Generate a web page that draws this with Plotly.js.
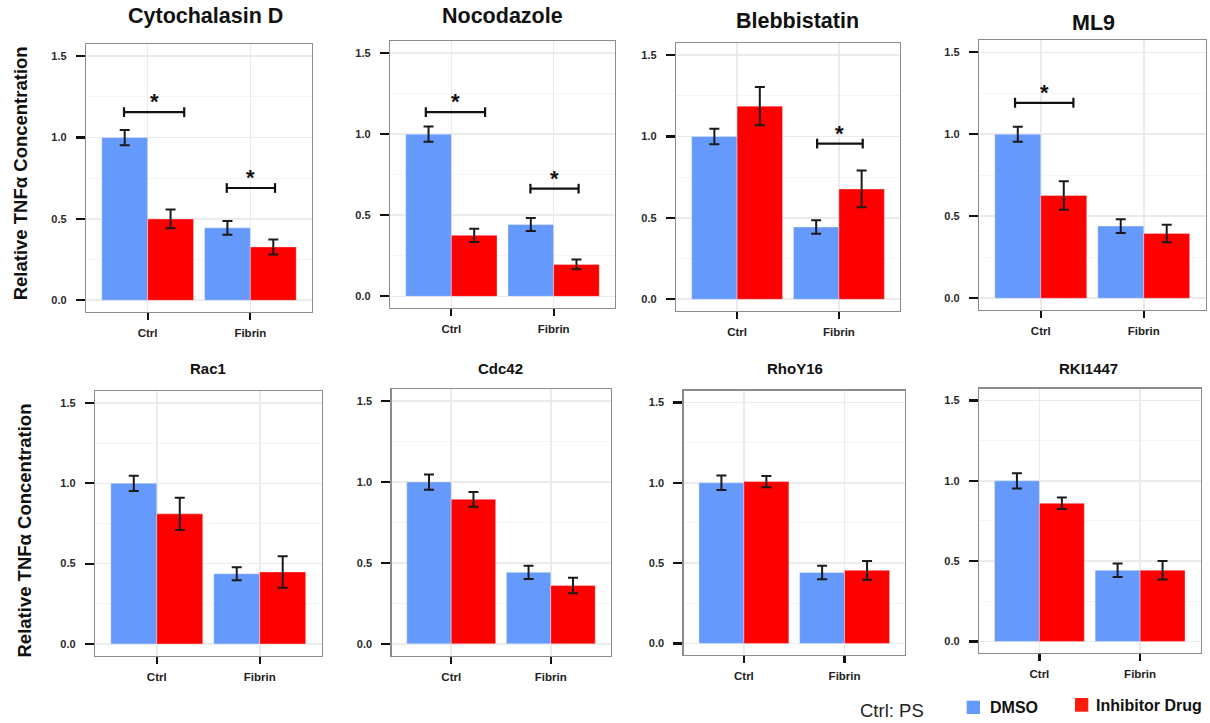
<!DOCTYPE html>
<html><head><meta charset="utf-8">
<script src="https://cdn.plot.ly/plotly-3.0.1.min.js"></script>
<style>html,body{margin:0;padding:0;background:#fff}#chart{width:1210px;height:723px}</style>
</head><body><div id="chart"></div>
<script>
// ---- data ----
const categories = ['Ctrl', 'Fibrin'];
const panelTitles = ['Cytochalasin D', 'Nocodazole', 'Blebbistatin', 'ML9', 'Rac1', 'Cdc42', 'RhoY16', 'RKI1447'];
const seriesNames = ['DMSO', 'Inhibitor Drug'];
const dmsoValues = [[1.00, 0.445], [1.00, 0.443], [1.00, 0.444], [1.00, 0.440], [1.00, 0.437], [1.00, 0.442], [1.00, 0.442], [1.00, 0.443]];
const dmsoErrors = [[0.047, 0.043], [0.047, 0.040], [0.048, 0.041], [0.046, 0.042], [0.047, 0.040], [0.047, 0.041], [0.045, 0.042], [0.047, 0.042]];
const drugValues = [[0.500, 0.328], [0.376, 0.197], [1.187, 0.678], [0.626, 0.395], [0.810, 0.448], [0.893, 0.360], [1.008, 0.455], [0.860, 0.443]];
const drugErrors = [[0.058, 0.046], [0.041, 0.030], [0.117, 0.113], [0.087, 0.053], [0.100, 0.098], [0.045, 0.048], [0.035, 0.058], [0.036, 0.058]];
// significance brackets
const sigPanel = [0, 0, 1, 1, 2, 3];
const sigX0 = [-0.23, 0.77, -0.25, 0.773, 0.786, -0.25];
const sigX1 = [0.356, 1.24, 0.33, 1.244, 1.234, 0.317];
const sigY = [1.156, 0.69, 1.136, 0.664, 0.957, 1.192];
const sigLabel = '*';
const yTickVals = [0, 0.5, 1.0, 1.5];
const yTickText = ['0.0', '0.5', '1.0', '1.5'];
const yTitle = 'Relative TNFα Concentration';
const footNote = 'Ctrl: PS';

// ---- layout geometry (px) ----
const W = 1210, H = 723;
const boxes = [
  [86, 44, 312, 312], [390, 41, 615, 308], [676, 43, 900, 311], [979, 40, 1205.5, 310],
  [95, 391, 321.5, 655.5], [391.5, 389, 610.5, 655.5], [683.5, 390.5, 905, 655], [979, 388.5, 1200.5, 653]
];
const titlePos = [[205.5, 16], [502.5, 16], [797.5, 21], [1093.3, 22.5], [208.3, 368], [500, 368], [794.5, 368], [1088.3, 368]];
const titleSize = [21.5, 21.5, 21.5, 21.5, 15, 15, 15, 15];
const FONT = 'Liberation Sans, Arial, Helvetica, sans-serif';
const BLUE = '#6699fc', RED = '#ff0000';
const catIdx = categories.map((c, i) => i);

const traces = [];
const layout = {
  width: W, height: H, margin: {l: 0, r: 0, t: 0, b: 0},
  paper_bgcolor: '#ffffff', plot_bgcolor: '#ffffff', showlegend: false,
  barmode: 'group', bargap: 0.107, bargroupgap: 0,
  font: {family: FONT, color: '#222'},
  annotations: [], shapes: []
};

boxes.forEach((b, i) => {
  const s = i === 0 ? '' : String(i + 1);
  layout['xaxis' + s] = {
    domain: [b[0] / W, b[2] / W], anchor: 'y' + s, range: [-0.6, 1.6], type: 'linear',
    tickvals: catIdx, ticktext: categories, ticks: 'outside', ticklen: 7, tickwidth: 2.2, tickcolor: '#111',
    ticklabelstandoff: 3,
    showline: true, mirror: true, linecolor: '#8c8c8c', linewidth: 1.2,
    showgrid: true, gridcolor: '#ebebeb', gridwidth: 1.6, zeroline: false,
    tickfont: {family: FONT, size: 11.5, weight: 'bold', color: '#222'}, fixedrange: true
  };
  layout['yaxis' + s] = {
    domain: [1 - b[3] / H, 1 - b[1] / H], anchor: 'x' + s, range: [-0.072, 1.575], type: 'linear',
    tickvals: yTickVals, ticktext: yTickText, ticks: 'outside', ticklen: 9, tickwidth: 2.2, tickcolor: '#111',
    ticklabelstandoff: 7,
    showline: true, mirror: true, linecolor: '#8c8c8c', linewidth: 1.2,
    showgrid: true, gridcolor: '#ebebeb', gridwidth: 1.6, zeroline: false,
    minor: {tickmode: 'array', tickvals: [0.25, 0.75, 1.25], showgrid: true, gridcolor: '#f4f4f4', gridwidth: 1, ticks: ''},
    tickfont: {family: FONT, size: 11, weight: 'bold', color: '#2a2a2a'}, fixedrange: true
  };
  const xa = 'x' + s, ya = 'y' + s;
  traces.push({
    type: 'bar', name: seriesNames[0], x: catIdx, y: dmsoValues[i], xaxis: xa, yaxis: ya,
    marker: {color: BLUE, line: {color: 'rgba(255,255,255,0.35)', width: 1}},
    error_y: {type: 'data', array: dmsoErrors[i], visible: true, color: '#1a1a1a', thickness: 2, width: 5},
    hoverinfo: 'y'
  });
  traces.push({
    type: 'bar', name: seriesNames[1], x: catIdx, y: drugValues[i], xaxis: xa, yaxis: ya,
    marker: {color: RED, line: {color: 'rgba(255,255,255,0.35)', width: 1}},
    error_y: {type: 'data', array: drugErrors[i], visible: true, color: '#1a1a1a', thickness: 2, width: 5},
    hoverinfo: 'y'
  });
  layout.annotations.push({
    xref: 'paper', yref: 'paper', x: titlePos[i][0] / W, y: 1 - titlePos[i][1] / H,
    xanchor: 'center', yanchor: 'middle', showarrow: false, text: panelTitles[i],
    font: {family: FONT, size: titleSize[i], weight: 'bold', color: '#111'}
  });
});

// significance brackets
const capH = 0.03;
sigPanel.forEach((p, k) => {
  const s = p === 0 ? '' : String(p + 1);
  traces.push({
    type: 'scatter', mode: 'lines', xaxis: 'x' + s, yaxis: 'y' + s, hoverinfo: 'skip',
    x: [sigX0[k], sigX0[k], null, sigX0[k], sigX1[k], null, sigX1[k], sigX1[k]],
    y: [sigY[k] - capH, sigY[k] + capH, null, sigY[k], sigY[k], null, sigY[k] - capH, sigY[k] + capH],
    line: {color: '#111', width: 2.2}
  });
  layout.annotations.push({
    xref: 'x' + s, yref: 'y' + s, x: (sigX0[k] + sigX1[k]) / 2, y: sigY[k],
    xanchor: 'center', yanchor: 'bottom', yshift: -4, showarrow: false, text: sigLabel,
    font: {family: FONT, size: 22, weight: 'bold', color: '#111'}
  });
});

// y-axis titles
[[20, 173.3], [23.5, 531]].forEach(p => {
  layout.annotations.push({
    xref: 'paper', yref: 'paper', x: p[0] / W, y: 1 - p[1] / H, xanchor: 'center', yanchor: 'middle',
    textangle: -90, showarrow: false, text: yTitle,
    font: {family: FONT, size: 18.5, weight: 'bold', color: '#111'}
  });
});

// legend (manual)
const legendBoxes = [[966.7, 700.7, 980, 714], [1075, 698, 1088.3, 711.7]];
const legendColors = [BLUE, '#ff1a0a'];
const legendText = [[987.7, 707.3], [1094, 705]];
legendBoxes.forEach((lb, k) => {
  layout.shapes.push({type: 'rect', xref: 'paper', yref: 'paper', x0: lb[0] / W, x1: lb[2] / W, y0: 1 - lb[3] / H, y1: 1 - lb[1] / H,
    fillcolor: legendColors[k], line: {width: 0}});
  layout.annotations.push({xref: 'paper', yref: 'paper', x: legendText[k][0] / W, y: 1 - legendText[k][1] / H,
    xanchor: 'left', yanchor: 'middle', showarrow: false, text: seriesNames[k],
    font: {family: FONT, size: 16, weight: 'bold', color: '#111'}});
});
layout.annotations.push({xref: 'paper', yref: 'paper', x: 858 / W, y: 1 - 710 / H, xanchor: 'left', yanchor: 'middle',
  showarrow: false, text: footNote, font: {family: FONT, size: 18.5, color: '#222'}});

Plotly.newPlot('chart', traces, layout, {displayModeBar: false, staticPlot: true});
</script></body></html>
